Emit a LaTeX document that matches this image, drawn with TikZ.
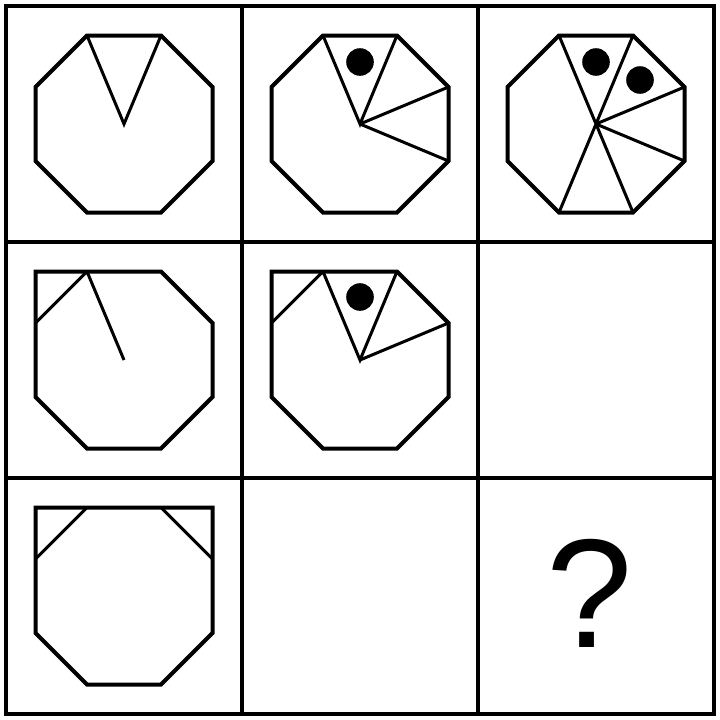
\documentclass[tikz,border=0pt]{standalone}
\usepackage{fontspec}
\setmainfont{Liberation Sans}
\begin{document}
\begin{tikzpicture}[x=1pt,y=-1pt,
  outline/.style={line width=4pt, line join=miter},
  inner/.style={line width=3pt},
  gridline/.style={line width=4pt},
  dot/.style={fill=black}]
\useasboundingbox (0,0) rectangle (720,720);
\fill[white] (0,0) rectangle (720,720);
\newcommand\octpts{%
  \coordinate (c) at (0,0);
  \coordinate (tl) at (-37,-88.5);
  \coordinate (tr) at (37,-88.5);
  \coordinate (ru) at (88.5,-37);
  \coordinate (rl) at (88.5,37);
  \coordinate (br) at (37,88.5);
  \coordinate (bl) at (-37,88.5);
  \coordinate (ll) at (-88.5,37);
  \coordinate (lu) at (-88.5,-37);
  \coordinate (sql) at (-88.5,-88.5);
  \coordinate (sqr) at (88.5,-88.5);}
% grid
\draw[gridline] (6,6) rectangle (714,714);
\draw[gridline] (242,6) -- (242,714) (478,6) -- (478,714)
                (6,242) -- (714,242) (6,478) -- (714,478);
% row 1, cell 1
\begin{scope}[shift={(124,124)}]
  \octpts
  \draw[outline] (tl)--(tr)--(ru)--(rl)--(br)--(bl)--(ll)--(lu)--cycle;
  \draw[inner] (tl)--(c)--(tr);
\end{scope}
% row 1, cell 2
\begin{scope}[shift={(360,124)}]
  \octpts
  \draw[outline] (tl)--(tr)--(ru)--(rl)--(br)--(bl)--(ll)--(lu)--cycle;
  \draw[inner] (tl)--(c)--(tr) (c)--(ru) (c)--(rl);
  \fill[dot] (0,-62) circle (13.8);
\end{scope}
% row 1, cell 3
\begin{scope}[shift={(596,124)}]
  \octpts
  \draw[outline] (tl)--(tr)--(ru)--(rl)--(br)--(bl)--(ll)--(lu)--cycle;
  \draw[inner] (c)--(tl) (c)--(tr) (c)--(ru) (c)--(rl) (c)--(br) (c)--(bl);
  \fill[dot] (0,-62) circle (13.8);
  \fill[dot] (44,-44) circle (13.8);
\end{scope}
% row 2, cell 1
\begin{scope}[shift={(124,360)}]
  \octpts
  \draw[outline] (sql)--(tr)--(ru)--(rl)--(br)--(bl)--(ll)--(lu)--cycle;
  \draw[inner] (lu)--(tl) (tl)--(c);
\end{scope}
% row 2, cell 2
\begin{scope}[shift={(360,360)}]
  \octpts
  \draw[outline] (sql)--(tr)--(ru)--(rl)--(br)--(bl)--(ll)--(lu)--cycle;
  \draw[inner] (lu)--(tl) (tl)--(c)--(tr) (c)--(ru);
  \fill[dot] (0,-63) circle (13.8);
\end{scope}
% row 3, cell 1
\begin{scope}[shift={(124,596)}]
  \octpts
  \draw[outline] (sql)--(sqr)--(ru)--(rl)--(br)--(bl)--(ll)--(lu)--cycle;
  \draw[inner] (lu)--(tl) (tr)--(ru);
\end{scope}
% row 3, cell 3
\node[inner sep=0pt, font=\fontsize{155}{155}\selectfont] (q) at (590,593) {?};
\end{tikzpicture}
\end{document}
